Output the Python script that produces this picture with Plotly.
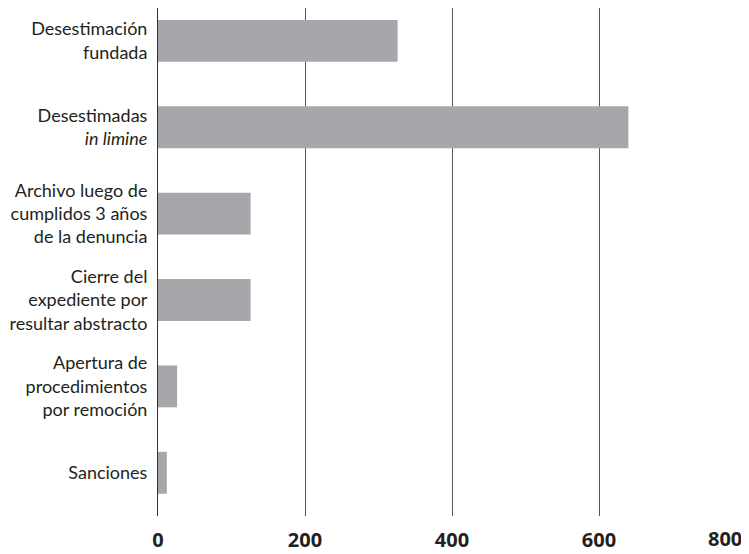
import plotly.graph_objects as go

categories = [
    "Desestimación<br>fundada",
    "Desestimadas<br><i>in limine</i>",
    "Archivo luego de<br>cumplidos 3 años<br>de la denuncia",
    "Cierre del<br>expediente por<br>resultar abstracto",
    "Apertura de<br>procedimientos<br>por remoción",
    "Sanciones",
]
values = [326, 640, 126, 126, 26, 12]
tick_values = [0, 200, 400, 600]
last_tick = 800

fig = go.Figure(
    go.Bar(
        y=categories,
        x=values,
        orientation="h",
        marker=dict(color="#a6a7ab", line=dict(width=0)),
        width=0.485,
    )
)

fig.update_layout(
    width=749,
    height=554,
    margin=dict(l=150, r=11, t=0, b=46, autoexpand=False),
    paper_bgcolor="white",
    plot_bgcolor="white",
    showlegend=False,
    font=dict(family="Lato", color="#231f20"),
    xaxis=dict(
        range=[0, last_tick],
        tickvals=tick_values,
        ticktext=[str(v) for v in tick_values],
        showgrid=True,
        gridcolor="#555555",
        gridwidth=1,
        zeroline=False,
        showline=False,
        ticks="",
        tickfont=dict(family="Open Sans", size=20, color="#231f20", weight="bold"),
        ticklabelstandoff=10,
        automargin=False,
    ),
    yaxis=dict(
        type="category",
        range=[5.5, -0.38],
        showgrid=False,
        zeroline=False,
        showline=True,
        linecolor="#333333",
        linewidth=1,
        ticks="",
        tickfont=dict(family="Lato", size=18, color="#231f20"),
        ticklabelstandoff=6,
        automargin=False,
    ),
    annotations=[
        dict(
            x=last_tick,
            xref="x",
            y=0,
            yref="paper",
            xanchor="right",
            yanchor="top",
            yshift=-7,
            xshift=-2,
            text=str(last_tick),
            showarrow=False,
            font=dict(family="Open Sans", size=20, color="#231f20", weight="bold"),
        )
    ],
)

fig.write_html("out.html")
